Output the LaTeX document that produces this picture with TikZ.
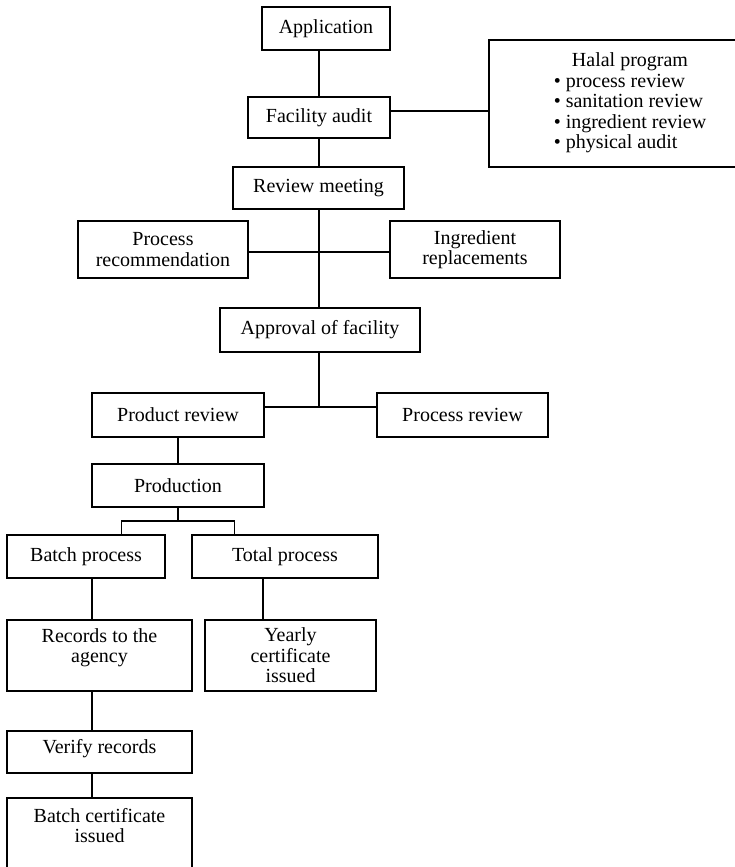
\documentclass[tikz,border=0pt]{standalone}
\usepackage{fontspec}
\setmainfont{Liberation Serif}
\newcommand{\HalalItem}[1]{\textbullet\ #1}

\begin{document}
\begin{tikzpicture}[x=1pt,y=-1pt,
  box/.style={draw,line width=1.8pt,inner sep=0pt,align=center,font=\fontsize{20}{20.5}\selectfont},
  link/.style={line width=1.5pt}]
  \useasboundingbox (0,0) rectangle (735,867);
  \clip (0,0) rectangle (735,867);
  \coordinate (spine) at (319,0); % main vertical line
  \coordinate (lane) at (92,0);   % batch column
  \coordinate (lane2) at (263,0); % total column
  % top part
  \node[box,minimum width=128,minimum height=43] (app) at (326,28.5) {Application};
  \node[box,minimum width=142,minimum height=41] (audit) at (319,117.5) {Facility audit};
  \node[box,minimum width=282,minimum height=127] (halal) at (630,103.5)
    {\begin{tabular}{@{}l@{}}\multicolumn{1}{@{}c@{}}{Halal program}\\
     \HalalItem{process review}\\ \HalalItem{sanitation review}\\
     \HalalItem{ingredient review}\\ \HalalItem{physical audit}\end{tabular}};
  \node[box,minimum width=171,minimum height=42] (review) at (318.5,188) {Review meeting};
  \node[box,minimum width=170,minimum height=57] (prec) at (163,249.5) {Process\\recommendation};
  \node[box,minimum width=170,minimum height=57] (ingr) at (475,249.5) {Ingredient\\replacements};
  \node[box,minimum width=200,minimum height=44] (approval) at (320,330) {Approval of facility};
  \node[box,minimum width=172,minimum height=44] (prodrev) at (178,415) {Product review};
  \node[box,minimum width=171,minimum height=44] (procrev) at (462.5,415) {Process review};
  \node[box,minimum width=172,minimum height=43] (production) at (178,485.5) {Production};
  % lower part
  \node[box,minimum width=158,minimum height=43] (batch) at (86,556.5) {Batch process};
  \node[box,minimum width=186,minimum height=43] (total) at (285,556.5) {Total process};
  \node[box,minimum width=185,minimum height=71,text depth=20pt] (records) at (99.5,655.5) {Records to the\\agency};
  \node[box,minimum width=171,minimum height=71] (yearly) at (290.5,655.5) {Yearly\\certificate\\issued};
  \node[box,minimum width=185,minimum height=42,text depth=12pt] (verify) at (99.5,752) {Verify records};
  \node[box,minimum width=185,minimum height=75,text depth=20pt] (batchcert) at (99.5,835.5) {Batch certificate\\issued};
  % connectors
  \draw[link] (app.south -| spine) -- (audit.north -| spine);
  \draw[link] ([yshift=6.5pt]audit.east) -- ([yshift=6.5pt]audit.east -| halal.west);
  \draw[link] (audit.south -| spine) -- (review.north -| spine);
  \draw[link] (review.south -| spine) -- (approval.north -| spine);
  \draw[link] ([yshift=-2.5pt]prec.east) -- ([yshift=-2.5pt]ingr.west);
  \draw[link] (approval.south -| spine) -- ([yshift=8pt]prodrev.east -| spine);
  \draw[link] ([yshift=8pt]prodrev.east) -- ([yshift=8pt]procrev.west);
  \draw[link] (prodrev.south) -- (production.north);
  \coordinate (forkL) at (121.5,521);
  \coordinate (forkR) at (234.6,521);
  \draw[link] (production.south) -- (production.south |- forkL);
  \draw[link] (batch.north -| forkL) -- (forkL) -- (forkR) -- (total.north -| forkR);
  \draw[link] (batch.south -| lane) -- (records.north -| lane);
  \draw[link] (total.south -| lane2) -- (yearly.north -| lane2);
  \draw[link] (records.south -| lane) -- (verify.north -| lane);
  \draw[link] (verify.south -| lane) -- (batchcert.north -| lane);
\end{tikzpicture}
\end{document}
